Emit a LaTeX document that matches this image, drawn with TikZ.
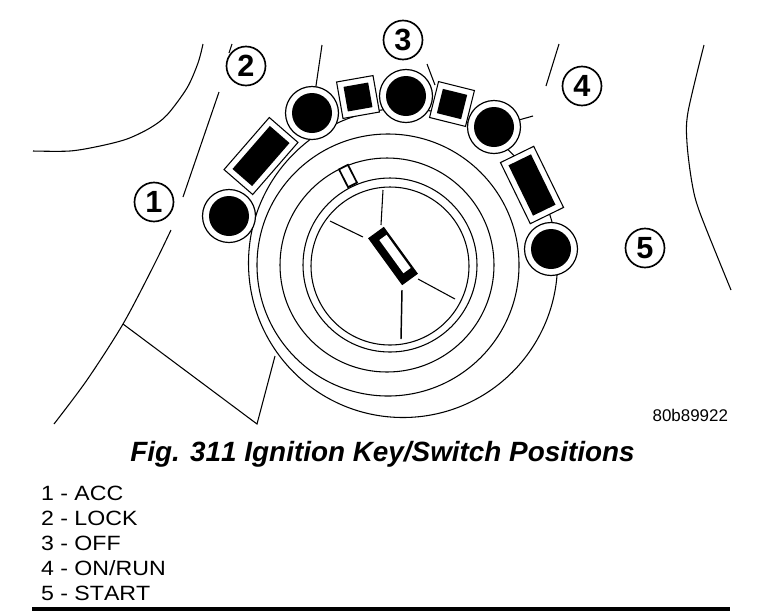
\documentclass[tikz,border=0pt]{standalone}
\usepackage{fontspec}
\setmainfont[Kerning=Off]{Liberation Sans}
\usetikzlibrary{positioning}
\tikzstyle{every node}=[inner sep=0, outer sep=0]
\tikzstyle{ringnode}=[circle,draw,line width=.8pt,minimum size=#1*.75pt]
\tikzstyle{buttonnode}=[circle,draw,fill=white,line width=.9pt,minimum size=53*.75pt]
\tikzstyle{dotnode}=[circle,fill=black,minimum size=40*.75pt]
\tikzstyle{labelnode}=[circle,draw,fill=white,line width=1.25pt,minimum size=39*.75pt,font=\fontsize{23}{23}\selectfont\bfseries]
\tikzstyle{legendnode}=[anchor=west,font=\fontsize{15.5}{16}\selectfont]
\tikzstyle{thinline}=[line width=.8pt]
\newcommand{\buttonat}[2]{\node[buttonnode] (#1) at (#2) {}; \node[dotnode] (#1dot) at (#1) {};}
\newcommand{\windowat}[5]{\node[draw,fill=white,line width=.8pt,rotate=#3,minimum width=#4*.75pt,minimum height=#5*.75pt] (#1) at (#2) {};
\node[fill=black,rotate=#3,minimum width=(#4-12)*.75pt,minimum height=(#5-12)*.75pt] (#1in) at (#1) {};}
\newcommand{\legendtext}[1]{\scalebox{1.12}[1]{#1}}
\begin{document}
\begin{tikzpicture}[x=.75pt,y=-.75pt]
\useasboundingbox (0,0) rectangle (768,612);

\node[ringnode=309] (outerring) at (403,263) {};
\node[ringnode=262] (ringb) at (388,265) {};
\node[ringnode=214] (ringc) at (387,265) {};
\node[ringnode=174] (ringd) at (390,265) {};
\node[ringnode=158] (ringe) at (390,266) {};

\coordinate (stubb) at (322,45);
\coordinate (stubc) at (427,64);
\coordinate (stubcc) at (435,85);
\coordinate (stubd) at (533,116);
\draw[thinline] (312,113) -- (stubb);
\draw[thinline] (stubcc) -- (stubc);
\draw[thinline] (494,127) -- (stubd);

\windowat{wina}{261,156}{49}{69}{38}
\windowat{winb}{358,97}{10}{37}{37}
\windowat{winc}{452,104}{-14}{37}{37}
\windowat{wind}{532,185}{-64}{68}{37}

\buttonat{btna}{229,216}
\buttonat{btnb}{312,113}
\buttonat{btnc}{406,96}
\buttonat{btnd}{494,127}
\buttonat{btne}{551,249}

\node[draw,fill=white,line width=1.3pt,rotate=-63,minimum width=20*.75pt,minimum height=10*.75pt] (slot) at (348,176) {};
\node[fill=black,rotate=-54,minimum width=58*.75pt,minimum height=19.5*.75pt] (key) at (393,256) {};
\node[fill=white,rotate=-54,minimum width=41*.75pt,minimum height=9*.75pt] (keyin) at (395,254) {};

\draw[thinline] (383,190) -- (381,225);
\draw[thinline] (330,221) -- (363,237);
\draw[thinline] (418,279) -- (455,299);
\draw[line width=1.1pt] (402,290) -- (401,339);

\draw[thinline] plot[smooth] coordinates {(203,44) (198,63) (187,88) (167,115) (150,128) (127,139) (100,146) (70,151) (33,151)};
\draw[thinline] (232,44) -- (229,53);
\draw[thinline] (219,92) -- (183,197);
\draw[thinline] plot[smooth] coordinates {(171,230) (153,267) (123,324) (87,380) (54,424)};
\draw[thinline] (123,324) -- (257,424) -- (275,356);
\draw[thinline] (559,44) -- (546,86);
\draw[thinline] plot[smooth] coordinates {(704,45) (688,112) (687,143) (692,183) (700,213) (731,290)};

\node[labelnode] (one) at (154,202) {1};
\node[labelnode] (two) at (246,66) {2};
\node[labelnode] (three) at (403,40) {3};
\node[labelnode] (four) at (582,86) {4};
\node[labelnode] (five) at (645,248) {5};

\node[anchor=east,font=\fontsize{12.7}{13}\selectfont] (partno) at (728,415) {80b89922};
\node[font=\fontsize{20.9}{21}\selectfont\bfseries\itshape] (caption) at (382.5,454) {Fig. 311 Ignition Key/Switch Positions};
\node[legendnode] (acc) at (41,493) {\legendtext{1 - ACC}};
\node[legendnode] (lock) at (41,518) {\legendtext{2 - LOCK}};
\node[legendnode] (off) at (41,543) {\legendtext{3 - OFF}};
\node[legendnode] (onrun) at (41,568) {\legendtext{4 - ON/RUN}};
\node[legendnode] (start) at (41,593) {\legendtext{5 - START}};
\draw[line width=2.6pt] (32,609) -- (730,609);
\end{tikzpicture}
\end{document}
